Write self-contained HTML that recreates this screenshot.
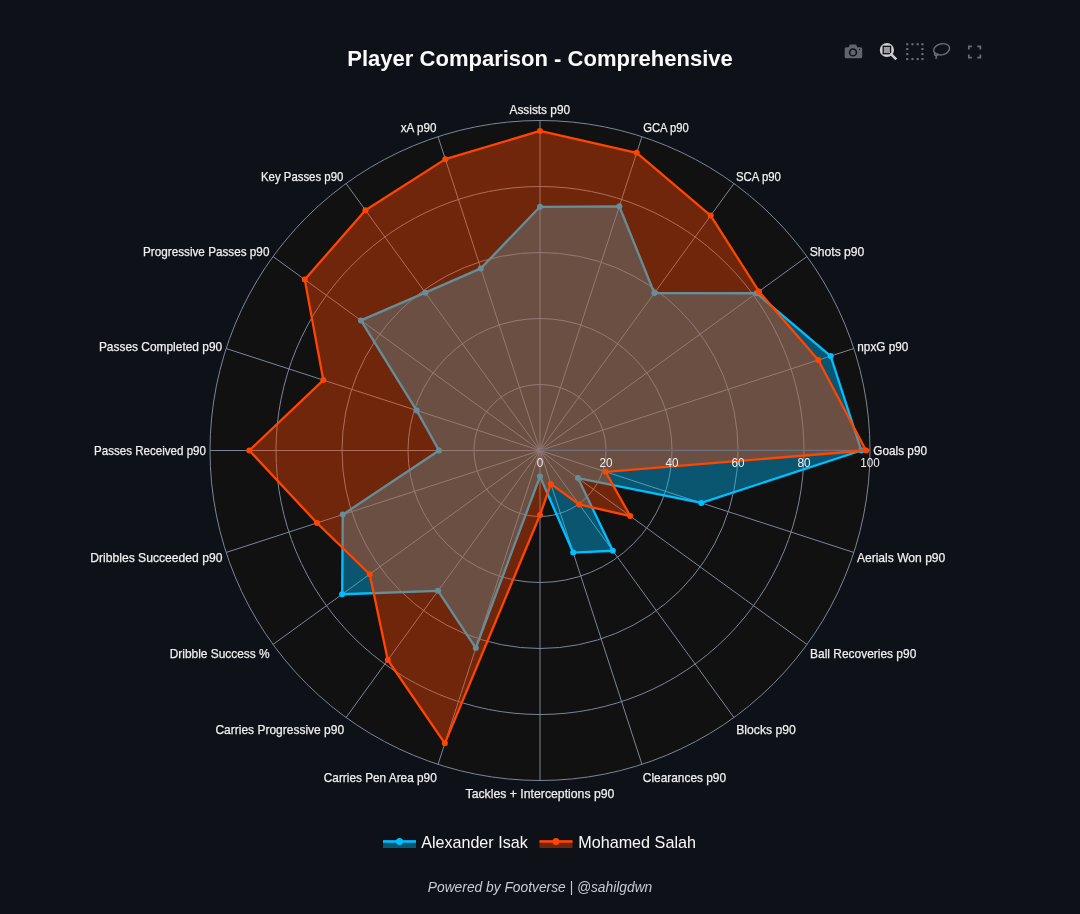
<!DOCTYPE html>
<html><head><meta charset="utf-8"><style>
html,body{margin:0;padding:0;background:#0e1117;width:1080px;height:914px;overflow:hidden;}
svg{display:block;font-family:"Liberation Sans",sans-serif;will-change:transform;}
</style></head><body>
<svg width="1080" height="914" viewBox="0 0 1080 914">
<rect width="1080" height="914" fill="#0e1117"/>
<text x="347.3" y="65.5" font-size="22" font-weight="bold" fill="#fafafa" textLength="385.5" lengthAdjust="spacingAndGlyphs">Player Comparison - Comprehensive</text>
<circle cx="540.0" cy="450.5" r="330.0" fill="#111111"/>
<circle cx="540.0" cy="450.5" r="66.00" fill="none" stroke="#7b8698" stroke-width="1"/>
<circle cx="540.0" cy="450.5" r="132.00" fill="none" stroke="#7b8698" stroke-width="1"/>
<circle cx="540.0" cy="450.5" r="198.00" fill="none" stroke="#7b8698" stroke-width="1"/>
<circle cx="540.0" cy="450.5" r="264.00" fill="none" stroke="#7b8698" stroke-width="1"/>
<line x1="540.0" y1="450.5" x2="870.00" y2="450.50" stroke="#7b8698" stroke-width="1"/>
<line x1="540.0" y1="450.5" x2="853.85" y2="348.52" stroke="#7b8698" stroke-width="1"/>
<line x1="540.0" y1="450.5" x2="806.98" y2="256.53" stroke="#7b8698" stroke-width="1"/>
<line x1="540.0" y1="450.5" x2="733.97" y2="183.52" stroke="#7b8698" stroke-width="1"/>
<line x1="540.0" y1="450.5" x2="641.98" y2="136.65" stroke="#7b8698" stroke-width="1"/>
<line x1="540.0" y1="450.5" x2="540.00" y2="120.50" stroke="#7b8698" stroke-width="1"/>
<line x1="540.0" y1="450.5" x2="438.02" y2="136.65" stroke="#7b8698" stroke-width="1"/>
<line x1="540.0" y1="450.5" x2="346.03" y2="183.52" stroke="#7b8698" stroke-width="1"/>
<line x1="540.0" y1="450.5" x2="273.02" y2="256.53" stroke="#7b8698" stroke-width="1"/>
<line x1="540.0" y1="450.5" x2="226.15" y2="348.52" stroke="#7b8698" stroke-width="1"/>
<line x1="540.0" y1="450.5" x2="210.00" y2="450.50" stroke="#7b8698" stroke-width="1"/>
<line x1="540.0" y1="450.5" x2="226.15" y2="552.48" stroke="#7b8698" stroke-width="1"/>
<line x1="540.0" y1="450.5" x2="273.02" y2="644.47" stroke="#7b8698" stroke-width="1"/>
<line x1="540.0" y1="450.5" x2="346.03" y2="717.48" stroke="#7b8698" stroke-width="1"/>
<line x1="540.0" y1="450.5" x2="438.02" y2="764.35" stroke="#7b8698" stroke-width="1"/>
<line x1="540.0" y1="450.5" x2="540.00" y2="780.50" stroke="#7b8698" stroke-width="1"/>
<line x1="540.0" y1="450.5" x2="641.98" y2="764.35" stroke="#7b8698" stroke-width="1"/>
<line x1="540.0" y1="450.5" x2="733.97" y2="717.48" stroke="#7b8698" stroke-width="1"/>
<line x1="540.0" y1="450.5" x2="806.98" y2="644.47" stroke="#7b8698" stroke-width="1"/>
<line x1="540.0" y1="450.5" x2="853.85" y2="552.48" stroke="#7b8698" stroke-width="1"/>
<circle cx="540.0" cy="450.5" r="330.0" fill="none" stroke="#7b8698" stroke-width="1"/>
<path d="M861.30,450.50L830.68,356.05L756.47,293.23L654.35,293.11L619.34,206.31L540.00,206.80L480.83,268.39L425.32,292.66L360.95,320.41L416.57,410.40L439.00,450.50L342.76,514.59L342.15,594.25L438.03,590.84L475.81,648.06L540.00,476.50L573.17,552.58L612.82,550.73L577.95,478.07L701.33,502.92Z" fill="#00bfff" fill-opacity="0.4" stroke="none"/>
<path d="M861.30,450.50L830.68,356.05L756.47,293.23L654.35,293.11L619.34,206.31L540.00,206.80L480.83,268.39L425.32,292.66L360.95,320.41L416.57,410.40L439.00,450.50L342.76,514.59L342.15,594.25L438.03,590.84L475.81,648.06L540.00,476.50L573.17,552.58L612.82,550.73L577.95,478.07L701.33,502.92Z" fill="none" stroke="#00bfff" stroke-width="2.3" stroke-linejoin="round"/>
<circle cx="861.30" cy="450.50" r="3" fill="#00bfff"/>
<circle cx="830.68" cy="356.05" r="3" fill="#00bfff"/>
<circle cx="756.47" cy="293.23" r="3" fill="#00bfff"/>
<circle cx="654.35" cy="293.11" r="3" fill="#00bfff"/>
<circle cx="619.34" cy="206.31" r="3" fill="#00bfff"/>
<circle cx="540.00" cy="206.80" r="3" fill="#00bfff"/>
<circle cx="480.83" cy="268.39" r="3" fill="#00bfff"/>
<circle cx="425.32" cy="292.66" r="3" fill="#00bfff"/>
<circle cx="360.95" cy="320.41" r="3" fill="#00bfff"/>
<circle cx="416.57" cy="410.40" r="3" fill="#00bfff"/>
<circle cx="439.00" cy="450.50" r="3" fill="#00bfff"/>
<circle cx="342.76" cy="514.59" r="3" fill="#00bfff"/>
<circle cx="342.15" cy="594.25" r="3" fill="#00bfff"/>
<circle cx="438.03" cy="590.84" r="3" fill="#00bfff"/>
<circle cx="475.81" cy="648.06" r="3" fill="#00bfff"/>
<circle cx="540.00" cy="476.50" r="3" fill="#00bfff"/>
<circle cx="573.17" cy="552.58" r="3" fill="#00bfff"/>
<circle cx="612.82" cy="550.73" r="3" fill="#00bfff"/>
<circle cx="577.95" cy="478.07" r="3" fill="#00bfff"/>
<circle cx="701.33" cy="502.92" r="3" fill="#00bfff"/>
<path d="M866.10,450.50L818.32,360.07L758.93,291.44L710.70,215.55L636.73,152.81L540.00,130.90L445.33,159.13L365.43,210.22L304.76,279.59L323.31,380.09L249.30,450.50L316.99,522.96L369.71,574.22L387.80,659.99L444.85,743.35L540.00,515.00L550.86,483.91L579.21,504.47L630.26,516.07L605.63,471.82Z" fill="#ff4500" fill-opacity="0.4" stroke="none"/>
<line x1="540.0" y1="450.1" x2="870.0" y2="450.1" stroke="#506784" stroke-opacity="0.55" stroke-width="2"/>
<path d="M866.10,450.50L818.32,360.07L758.93,291.44L710.70,215.55L636.73,152.81L540.00,130.90L445.33,159.13L365.43,210.22L304.76,279.59L323.31,380.09L249.30,450.50L316.99,522.96L369.71,574.22L387.80,659.99L444.85,743.35L540.00,515.00L550.86,483.91L579.21,504.47L630.26,516.07L605.63,471.82Z" fill="none" stroke="#ff4500" stroke-width="2.3" stroke-linejoin="round"/>
<circle cx="866.10" cy="450.50" r="3" fill="#ff4500"/>
<circle cx="818.32" cy="360.07" r="3" fill="#ff4500"/>
<circle cx="758.93" cy="291.44" r="3" fill="#ff4500"/>
<circle cx="710.70" cy="215.55" r="3" fill="#ff4500"/>
<circle cx="636.73" cy="152.81" r="3" fill="#ff4500"/>
<circle cx="540.00" cy="130.90" r="3" fill="#ff4500"/>
<circle cx="445.33" cy="159.13" r="3" fill="#ff4500"/>
<circle cx="365.43" cy="210.22" r="3" fill="#ff4500"/>
<circle cx="304.76" cy="279.59" r="3" fill="#ff4500"/>
<circle cx="323.31" cy="380.09" r="3" fill="#ff4500"/>
<circle cx="249.30" cy="450.50" r="3" fill="#ff4500"/>
<circle cx="316.99" cy="522.96" r="3" fill="#ff4500"/>
<circle cx="369.71" cy="574.22" r="3" fill="#ff4500"/>
<circle cx="387.80" cy="659.99" r="3" fill="#ff4500"/>
<circle cx="444.85" cy="743.35" r="3" fill="#ff4500"/>
<circle cx="540.00" cy="515.00" r="3" fill="#ff4500"/>
<circle cx="550.86" cy="483.91" r="3" fill="#ff4500"/>
<circle cx="579.21" cy="504.47" r="3" fill="#ff4500"/>
<circle cx="630.26" cy="516.07" r="3" fill="#ff4500"/>
<circle cx="605.63" cy="471.82" r="3" fill="#ff4500"/>
<text x="540.00" y="467.4" text-anchor="middle" font-size="13" fill="#f0f0f0" textLength="6.5" lengthAdjust="spacingAndGlyphs">0</text>
<text x="606.00" y="467.4" text-anchor="middle" font-size="13" fill="#f0f0f0" textLength="13.0" lengthAdjust="spacingAndGlyphs">20</text>
<text x="672.00" y="467.4" text-anchor="middle" font-size="13" fill="#f0f0f0" textLength="13.0" lengthAdjust="spacingAndGlyphs">40</text>
<text x="738.00" y="467.4" text-anchor="middle" font-size="13" fill="#f0f0f0" textLength="13.0" lengthAdjust="spacingAndGlyphs">60</text>
<text x="804.00" y="467.4" text-anchor="middle" font-size="13" fill="#f0f0f0" textLength="13.0" lengthAdjust="spacingAndGlyphs">80</text>
<text x="870.00" y="467.4" text-anchor="middle" font-size="13" fill="#f0f0f0" textLength="19.5" lengthAdjust="spacingAndGlyphs">100</text>
<text x="873.2" y="455.1" font-size="13" fill="#f0f0f0" stroke="#f0f0f0" stroke-width="0.25" textLength="53.9" lengthAdjust="spacingAndGlyphs">Goals p90</text>
<text x="857.3" y="351.3" font-size="13" fill="#f0f0f0" stroke="#f0f0f0" stroke-width="0.25" textLength="51.1" lengthAdjust="spacingAndGlyphs">npxG p90</text>
<text x="809.7" y="256.0" font-size="13" fill="#f0f0f0" stroke="#f0f0f0" stroke-width="0.25" textLength="54.6" lengthAdjust="spacingAndGlyphs">Shots p90</text>
<text x="736.0" y="181.1" font-size="13" fill="#f0f0f0" stroke="#f0f0f0" stroke-width="0.25" textLength="44.9" lengthAdjust="spacingAndGlyphs">SCA p90</text>
<text x="643.2" y="132.0" font-size="13" fill="#f0f0f0" stroke="#f0f0f0" stroke-width="0.25" textLength="45.6" lengthAdjust="spacingAndGlyphs">GCA p90</text>
<text x="509.5" y="113.9" font-size="13" fill="#f0f0f0" stroke="#f0f0f0" stroke-width="0.25" textLength="60.6" lengthAdjust="spacingAndGlyphs">Assists p90</text>
<text x="400.8" y="132.0" font-size="13" fill="#f0f0f0" stroke="#f0f0f0" stroke-width="0.25" textLength="35.6" lengthAdjust="spacingAndGlyphs">xA p90</text>
<text x="261.0" y="181.3" font-size="13" fill="#f0f0f0" stroke="#f0f0f0" stroke-width="0.25" textLength="82.3" lengthAdjust="spacingAndGlyphs">Key Passes p90</text>
<text x="143.0" y="255.9" font-size="13" fill="#f0f0f0" stroke="#f0f0f0" stroke-width="0.25" textLength="126.4" lengthAdjust="spacingAndGlyphs">Progressive Passes p90</text>
<text x="98.9" y="351.1" font-size="13" fill="#f0f0f0" stroke="#f0f0f0" stroke-width="0.25" textLength="123.3" lengthAdjust="spacingAndGlyphs">Passes Completed p90</text>
<text x="94.0" y="454.8" font-size="13" fill="#f0f0f0" stroke="#f0f0f0" stroke-width="0.25" textLength="112.0" lengthAdjust="spacingAndGlyphs">Passes Received p90</text>
<text x="90.2" y="561.7" font-size="13" fill="#f0f0f0" stroke="#f0f0f0" stroke-width="0.25" textLength="132.3" lengthAdjust="spacingAndGlyphs">Dribbles Succeeded p90</text>
<text x="169.7" y="658.2" font-size="13" fill="#f0f0f0" stroke="#f0f0f0" stroke-width="0.25" textLength="100.0" lengthAdjust="spacingAndGlyphs">Dribble Success %</text>
<text x="215.4" y="734.2" font-size="13" fill="#f0f0f0" stroke="#f0f0f0" stroke-width="0.25" textLength="128.7" lengthAdjust="spacingAndGlyphs">Carries Progressive p90</text>
<text x="323.8" y="782.3" font-size="13" fill="#f0f0f0" stroke="#f0f0f0" stroke-width="0.25" textLength="112.9" lengthAdjust="spacingAndGlyphs">Carries Pen Area p90</text>
<text x="465.5" y="797.7" font-size="13" fill="#f0f0f0" stroke="#f0f0f0" stroke-width="0.25" textLength="148.9" lengthAdjust="spacingAndGlyphs">Tackles + Interceptions p90</text>
<text x="642.8" y="782.3" font-size="13" fill="#f0f0f0" stroke="#f0f0f0" stroke-width="0.25" textLength="83.3" lengthAdjust="spacingAndGlyphs">Clearances p90</text>
<text x="736.2" y="734.3" font-size="13" fill="#f0f0f0" stroke="#f0f0f0" stroke-width="0.25" textLength="59.6" lengthAdjust="spacingAndGlyphs">Blocks p90</text>
<text x="810.1" y="657.6" font-size="13" fill="#f0f0f0" stroke="#f0f0f0" stroke-width="0.25" textLength="106.2" lengthAdjust="spacingAndGlyphs">Ball Recoveries p90</text>
<text x="856.9" y="562.0" font-size="13" fill="#f0f0f0" stroke="#f0f0f0" stroke-width="0.25" textLength="88.4" lengthAdjust="spacingAndGlyphs">Aerials Won p90</text>
<!-- modebar -->
<g fill="#62636b">
<path d="M846.2,47.2 L848.6,47.2 L849.9,44.5 L856.1,44.5 L857.4,47.2 L860.7,47.2 Q862.2,47.2 862.2,48.7 L862.2,56.8 Q862.2,58.3 860.7,58.3 L846.2,58.3 Q844.7,58.3 844.7,56.8 L844.7,48.7 Q844.7,47.2 846.2,47.2 Z"/>
<circle cx="853" cy="52.4" r="3.4" fill="none" stroke="#0e1117" stroke-width="1.6"/>
<circle cx="859.6" cy="49.4" r="0.6" fill="#0e1117"/>
</g>
<g>
<circle cx="886.9" cy="50" r="7.1" fill="#cfcfd2"/>
<rect x="883.2" y="46.3" width="7.4" height="7.4" fill="#9a9a9e" stroke="#0e1117" stroke-width="1.3"/>
<line x1="891.2" y1="54.3" x2="895.4" y2="58.5" stroke="#cfcfd2" stroke-width="2.6" stroke-linecap="square"/>
</g>
<g fill="#6c6d75">
<rect x="906.2" y="43.2" width="2.1" height="2.1"/><rect x="911.4" y="43.2" width="2.1" height="2.1"/><rect x="916.6" y="43.2" width="2.1" height="2.1"/><rect x="921.4" y="43.2" width="2.1" height="2.1"/>
<rect x="906.2" y="48" width="2.1" height="2.1"/><rect x="921.4" y="48" width="2.1" height="2.1"/>
<rect x="906.2" y="53" width="2.1" height="2.1"/><rect x="921.4" y="53" width="2.1" height="2.1"/>
<rect x="906.2" y="58" width="2.1" height="2.1"/><rect x="911.4" y="58" width="2.1" height="2.1"/><rect x="916.6" y="58" width="2.1" height="2.1"/><rect x="921.4" y="58" width="2.1" height="2.1"/>
</g>
<g fill="none" stroke="#6c6d75" stroke-width="1.4">
<ellipse cx="941.6" cy="49.3" rx="8.1" ry="5.5" transform="rotate(-14 941.6 49.3)"/>
<path d="M935.2,52.6 C933.6,54.2 934.8,56.2 936.8,55.6 C938.4,55.1 938.2,53.6 937.2,53.6 M936.6,55.8 C936.4,57 936.2,58 935.8,59"/>
</g>
<g fill="none" stroke="#6c6d75" stroke-width="1.7">
<path d="M968.8,49.5 L968.8,46.4 L971.9,46.4 M977.3,46.4 L980.4,46.4 L980.4,49.5 M980.4,54.5 L980.4,57.6 L977.3,57.6 M971.9,57.6 L968.8,57.6 L968.8,54.5"/>
</g>
<!-- legend -->
<rect x="383" y="840" width="33" height="8" fill="#00bfff" fill-opacity="0.4"/>
<line x1="383" y1="841.5" x2="416" y2="841.5" stroke="#00bfff" stroke-width="2.5"/>
<circle cx="399.5" cy="841.5" r="3.5" fill="#00bfff"/>
<text x="421.2" y="847.9" font-size="17" fill="#fafafa" textLength="106.5" lengthAdjust="spacingAndGlyphs">Alexander Isak</text>
<rect x="539.5" y="840" width="33" height="8" fill="#ff4500" fill-opacity="0.4"/>
<line x1="539.5" y1="841.5" x2="572.5" y2="841.5" stroke="#ff4500" stroke-width="2.5"/>
<circle cx="556" cy="841.5" r="3.5" fill="#ff4500"/>
<text x="578.2" y="847.9" font-size="17" fill="#fafafa" textLength="117.8" lengthAdjust="spacingAndGlyphs">Mohamed Salah</text>
<text x="427.8" y="891.9" font-size="15.5" font-style="italic" fill="#c9cbd0" textLength="224.5" lengthAdjust="spacingAndGlyphs">Powered by Footverse | @sahilgdwn</text>
</svg>
</body></html>
